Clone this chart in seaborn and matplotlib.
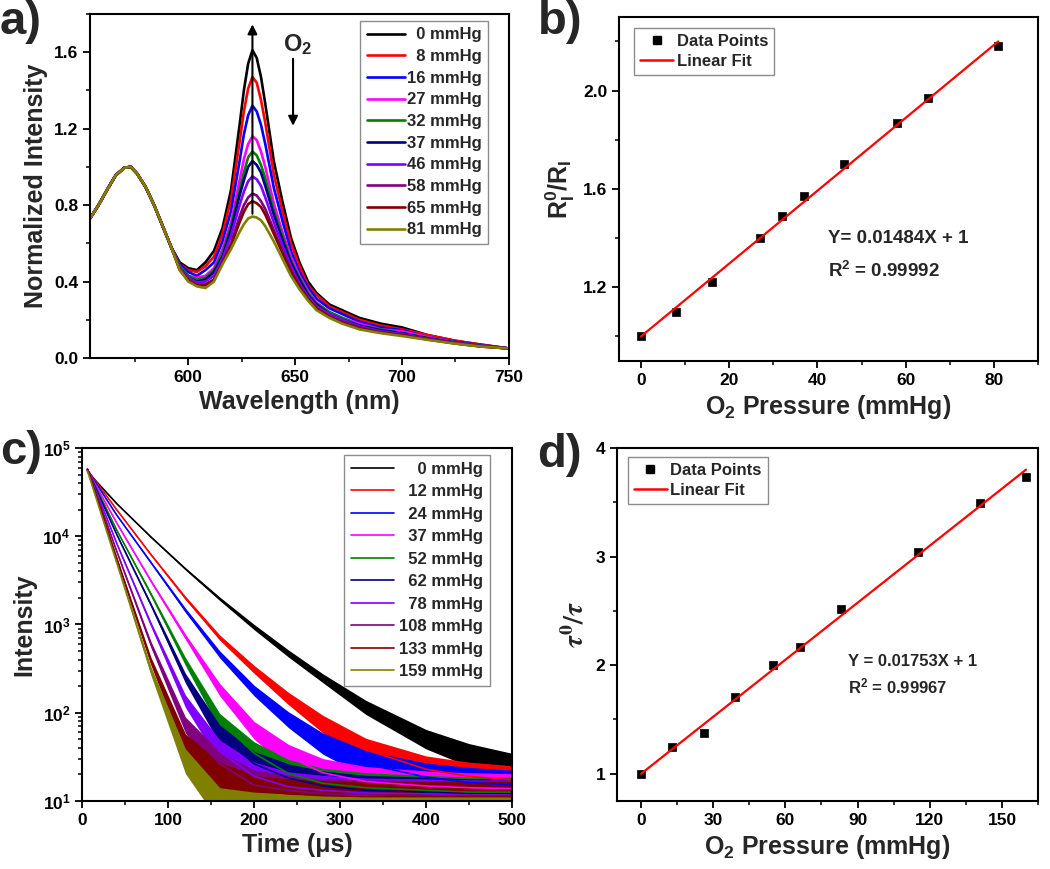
import numpy as np
import matplotlib
matplotlib.use("Agg")
import matplotlib.pyplot as plt
from matplotlib.lines import Line2D
from matplotlib.ticker import MultipleLocator, FormatStrFormatter
import seaborn as sns

# ---------------- panel a: normalized emission spectra ----------------
a_pressures = [0, 8, 16, 27, 32, 37, 46, 58, 65, 81]
wl_band1 = [554, 558, 562, 566, 570, 573, 576, 580, 584, 588, 592]
band1 = [0.73, 0.80, 0.88, 0.955, 0.995, 1.00, 0.965, 0.895, 0.80, 0.69, 0.58]
wl_band2 = [596, 600, 604, 608, 612, 616, 620, 624, 626, 628, 630, 632, 634, 636, 640, 644,
            648, 652, 656, 660, 666, 672, 680, 690, 700, 712, 725, 737, 750]
spec_0 = [0.50, 0.47, 0.46, 0.50, 0.56, 0.68, 0.88, 1.22, 1.40, 1.54, 1.61, 1.57, 1.47, 1.33, 1.03, 0.82,
          0.63, 0.50, 0.40, 0.34, 0.28, 0.25, 0.21, 0.18, 0.16, 0.12, 0.09, 0.07, 0.05]
spec_8 = [0.49, 0.46, 0.45, 0.48, 0.53, 0.65, 0.83, 1.13, 1.29, 1.41, 1.47, 1.44, 1.35, 1.23, 0.96, 0.77,
          0.60, 0.48, 0.38, 0.33, 0.27, 0.24, 0.20, 0.17, 0.15, 0.12, 0.09, 0.07, 0.05]
spec_16 = [0.49, 0.45, 0.43, 0.46, 0.50, 0.61, 0.77, 1.03, 1.17, 1.27, 1.32, 1.29, 1.22, 1.12, 0.89, 0.72,
           0.56, 0.45, 0.37, 0.31, 0.26, 0.23, 0.19, 0.16, 0.145, 0.11, 0.085, 0.067, 0.05]
spec_27 = [0.48, 0.43, 0.42, 0.43, 0.47, 0.57, 0.71, 0.93, 1.04, 1.12, 1.16, 1.14, 1.08, 1.00, 0.81, 0.66,
           0.53, 0.43, 0.35, 0.29, 0.24, 0.21, 0.18, 0.15, 0.14, 0.11, 0.082, 0.065, 0.05]
spec_32 = [0.48, 0.43, 0.41, 0.42, 0.46, 0.55, 0.69, 0.88, 0.97, 1.05, 1.08, 1.06, 1.01, 0.94, 0.77, 0.64,
           0.51, 0.42, 0.34, 0.285, 0.24, 0.21, 0.17, 0.15, 0.13, 0.105, 0.081, 0.064, 0.05]
spec_37 = [0.47, 0.42, 0.40, 0.41, 0.45, 0.53, 0.67, 0.85, 0.93, 1.00, 1.03, 1.01, 0.97, 0.90, 0.75, 0.62,
           0.50, 0.41, 0.33, 0.28, 0.23, 0.20, 0.17, 0.145, 0.13, 0.103, 0.08, 0.063, 0.05]
spec_46 = [0.47, 0.42, 0.395, 0.40, 0.43, 0.52, 0.64, 0.80, 0.87, 0.925, 0.95, 0.935, 0.90, 0.84, 0.71, 0.59,
           0.48, 0.39, 0.32, 0.27, 0.23, 0.20, 0.165, 0.14, 0.125, 0.10, 0.079, 0.062, 0.05]
spec_58 = [0.465, 0.41, 0.385, 0.385, 0.41, 0.50, 0.60, 0.74, 0.80, 0.84, 0.86, 0.85, 0.82, 0.78, 0.67, 0.56,
           0.46, 0.38, 0.31, 0.26, 0.22, 0.19, 0.16, 0.135, 0.12, 0.098, 0.077, 0.061, 0.05]
spec_65 = [0.46, 0.405, 0.38, 0.38, 0.41, 0.50, 0.59, 0.71, 0.765, 0.805, 0.82, 0.81, 0.79, 0.75, 0.65, 0.55,
           0.45, 0.37, 0.31, 0.26, 0.215, 0.185, 0.155, 0.133, 0.12, 0.097, 0.076, 0.06, 0.05]
spec_81 = [0.46, 0.40, 0.375, 0.366, 0.40, 0.49, 0.57, 0.66, 0.70, 0.73, 0.74, 0.735, 0.72, 0.69, 0.61, 0.52,
           0.43, 0.36, 0.30, 0.25, 0.21, 0.18, 0.15, 0.13, 0.115, 0.095, 0.075, 0.06, 0.05]
spectra = [spec_0, spec_8, spec_16, spec_27, spec_32, spec_37, spec_46, spec_58, spec_65, spec_81]

# ---------------- panel b: Stern-Volmer (intensity ratio) ----------------
b_pressure = [0, 8, 16, 27, 32, 37, 46, 58, 65, 81]
b_ratio = [1.00, 1.10, 1.22, 1.40, 1.49, 1.57, 1.70, 1.87, 1.97, 2.18]
b_fit_x = [0, 81]
b_fit_y = [1.00, 2.20]

# ---------------- panel c: decay curves (log10 counts) ----------------
c_pressures = [0, 12, 24, 37, 52, 62, 78, 108, 133, 159]
time_us = [6, 40, 80, 120, 160, 200, 240, 280, 330, 400, 450, 500]
decay_log = [
    [4.73, 4.37, 3.99, 3.63, 3.29, 2.97, 2.67, 2.39, 2.06, 1.70, 1.52, 1.40],
    [4.75, 4.30, 3.79, 3.30, 2.85, 2.49, 2.16, 1.87, 1.58, 1.36, 1.28, 1.24],
    [4.75, 4.24, 3.70, 3.16, 2.66, 2.25, 1.92, 1.65, 1.42, 1.27, 1.21, 1.18],
    [4.75, 4.15, 3.49, 2.86, 2.26, 1.80, 1.50, 1.32, 1.22, 1.17, 1.15, 1.14],
    [4.75, 4.07, 3.34, 2.58, 1.90, 1.54, 1.31, 1.20, 1.15, 1.12, 1.10, 1.10],
    [4.75, 4.02, 3.22, 2.39, 1.75, 1.42, 1.26, 1.17, 1.12, 1.10, 1.08, 1.08],
    [4.76, 3.92, 3.00, 2.13, 1.56, 1.28, 1.16, 1.12, 1.09, 1.08, 1.07, 1.07],
    [4.76, 3.83, 2.77, 1.86, 1.42, 1.18, 1.12, 1.08, 1.07, 1.06, 1.06, 1.06],
    [4.76, 3.75, 2.58, 1.64, 1.28, 1.12, 1.08, 1.06, 1.05, 1.05, 1.05, 1.05],
    [4.74, 3.70, 2.47, 1.45, 0.95, 0.90, 0.90, 0.90, 0.90, 0.90, 0.90, 0.90],
]
# half width of the noise band (decades)
noise_hw = [
    [0.005, 0.005, 0.008, 0.012, 0.02, 0.03, 0.04, 0.05, 0.08, 0.11, 0.13, 0.14],
    [0.005, 0.006, 0.01, 0.02, 0.03, 0.045, 0.07, 0.10, 0.13, 0.15, 0.16, 0.16],
    [0.005, 0.006, 0.012, 0.025, 0.04, 0.06, 0.09, 0.12, 0.15, 0.16, 0.17, 0.17],
    [0.005, 0.008, 0.015, 0.03, 0.07, 0.10, 0.14, 0.16, 0.17, 0.17, 0.17, 0.17],
    [0.005, 0.008, 0.02, 0.045, 0.09, 0.13, 0.16, 0.17, 0.17, 0.17, 0.17, 0.17],
    [0.005, 0.01, 0.02, 0.055, 0.11, 0.14, 0.16, 0.17, 0.17, 0.17, 0.17, 0.17],
    [0.005, 0.01, 0.025, 0.07, 0.13, 0.16, 0.17, 0.17, 0.17, 0.17, 0.17, 0.17],
    [0.005, 0.012, 0.035, 0.09, 0.14, 0.17, 0.17, 0.17, 0.17, 0.17, 0.17, 0.17],
    [0.005, 0.015, 0.045, 0.12, 0.16, 0.17, 0.17, 0.17, 0.17, 0.17, 0.17, 0.17],
    [0.005, 0.015, 0.05, 0.14, 0.20, 0.20, 0.18, 0.17, 0.17, 0.17, 0.17, 0.17],
]

# ---------------- panel d: Stern-Volmer (lifetime ratio) ----------------
d_pressure = [0, 13, 26, 39, 55, 66, 83, 115, 141, 160]
d_ratio = [1.00, 1.245, 1.38, 1.71, 2.00, 2.17, 2.52, 3.04, 3.49, 3.73]
d_fit_x = [0, 160]
d_fit_y = [1.00, 3.80]

colors = ["#000000", "#ff0000", "#0000ff", "#ff00ff", "#008000",
          "#000080", "#8000ff", "#800080", "#800000", "#808000"]


def mmhg_label(p, width):
    # pad with two spaces per missing digit so the labels line up on the right
    s = str(p)
    return "  " * (width - len(s)) + s + " mmHg"


sns.set_theme(style="ticks")
plt.rcParams.update({
    "font.family": ["Liberation Sans", "DejaVu Sans"],
    "font.weight": "bold",
    "axes.labelweight": "bold",
    "axes.linewidth": 1.5,
    "axes.edgecolor": "black",
    "xtick.color": "black",
    "ytick.color": "black",
    "xtick.direction": "out",
    "ytick.direction": "out",
    "xtick.major.size": 5,
    "ytick.major.size": 5,
    "xtick.minor.size": 3,
    "ytick.minor.size": 3,
    "xtick.major.width": 1.3,
    "ytick.major.width": 1.3,
    "xtick.minor.width": 1.1,
    "ytick.minor.width": 1.1,
    "mathtext.fontset": "custom",
    "mathtext.rm": "Liberation Sans:bold",
    "mathtext.it": "Liberation Sans:bold",
    "mathtext.bf": "Liberation Sans:bold",
})

TICK = 12.5
LAB = 18

fig = plt.figure(figsize=(10.5, 8.69), dpi=100)
ax_a = fig.add_axes([0.0857, 0.588, 0.399, 0.396])
ax_b = fig.add_axes([0.5895, 0.5846, 0.399, 0.396])
ax_c = fig.add_axes([0.0784, 0.0783, 0.4092, 0.4062])
ax_d = fig.add_axes([0.5876, 0.0783, 0.401, 0.4062])

legend_box = dict(fancybox=False, edgecolor="#8c8c8c", framealpha=1, borderaxespad=0)

# ----- a -----
wl = wl_band1 + wl_band2
for vals, col in zip(spectra, colors):
    sns.lineplot(x=wl, y=band1 + vals, color=col, linewidth=1.9, ax=ax_a)
ax_a.set_xlim(554, 750)
ax_a.set_ylim(0, 1.8)
ax_a.xaxis.set_major_locator(MultipleLocator(50))
ax_a.xaxis.set_minor_locator(MultipleLocator(25))
ax_a.yaxis.set_major_locator(MultipleLocator(0.4))
ax_a.yaxis.set_minor_locator(MultipleLocator(0.2))
ax_a.yaxis.set_major_formatter(FormatStrFormatter("%.1f"))
ax_a.set_xlabel("Wavelength (nm)", fontsize=LAB)
ax_a.set_ylabel("Normalized Intensity", fontsize=LAB)
ax_a.legend(handles=ax_a.lines[:10], labels=[mmhg_label(p, 2) for p in a_pressures],
            loc="upper right", bbox_to_anchor=(0.95, 0.98), fontsize=12,
            handlelength=2.3, handletextpad=0.1, labelspacing=0.4, borderpad=0.4,
            **legend_box)
ax_a.annotate("", xy=(630, 1.76), xytext=(630, 0.74),
              arrowprops=dict(arrowstyle="-|>", color="black", lw=1.5, mutation_scale=14))
ax_a.annotate("", xy=(649, 1.20), xytext=(649, 1.58),
              arrowprops=dict(arrowstyle="-|>", color="black", lw=1.5, mutation_scale=14))
ax_a.text(644.5, 1.64, "O$_2$", fontsize=17, fontweight="bold", va="center", ha="left")

# ----- b -----
fit_handles = [Line2D([], [], ls="none", marker="s", color="black", markersize=6),
               Line2D([], [], color="red", lw=1.8)]
fit_legend = dict(fontsize=12, handlelength=2.0, handletextpad=0.2, labelspacing=0.3,
                  borderpad=0.35, loc="upper left", **legend_box)

sns.scatterplot(x=b_pressure, y=b_ratio, marker="s", s=36, color="black",
                edgecolor="black", linewidth=0.5, ax=ax_b, zorder=3)
sns.lineplot(x=b_fit_x, y=b_fit_y, color="red", linewidth=1.6, ax=ax_b, zorder=4)
ax_b.set_xlim(-5, 90)
ax_b.set_ylim(0.9, 2.3)
ax_b.xaxis.set_major_locator(MultipleLocator(20))
ax_b.xaxis.set_minor_locator(MultipleLocator(10))
ax_b.yaxis.set_major_locator(MultipleLocator(0.4))
ax_b.yaxis.set_minor_locator(MultipleLocator(0.2))
ax_b.yaxis.set_major_formatter(FormatStrFormatter("%.1f"))
ax_b.set_xlabel("O$_2$ Pressure (mmHg)", fontsize=LAB)
ax_b.set_ylabel("R$_\\mathregular{I}^\\mathregular{0}$/R$_\\mathregular{I}$", fontsize=LAB)
ax_b.text(42.5, 1.40, "Y= 0.01484X + 1", fontsize=13.5, fontweight="bold", va="center")
ax_b.text(42.5, 1.265, "R$^2$ = 0.99992", fontsize=13.5, fontweight="bold", va="center")
ax_b.legend(handles=fit_handles, labels=["Data Points", "Linear Fit"],
            bbox_to_anchor=(0.036, 0.968), **fit_legend)

# ----- c -----
for logs, hw, col in zip(decay_log, noise_hw, colors):
    logs = np.array(logs)
    hw = np.array(hw)
    ax_c.fill_between(time_us, 10 ** (logs - hw), 10 ** (logs + hw), color=col, lw=0)
    sns.lineplot(x=time_us, y=10 ** logs, color=col, linewidth=1.2, ax=ax_c)
ax_c.set_yscale("log")
ax_c.set_xlim(0, 500)
ax_c.set_ylim(10, 1e5)
ax_c.xaxis.set_major_locator(MultipleLocator(100))
ax_c.xaxis.set_minor_locator(MultipleLocator(50))
ax_c.set_xlabel("Time (\u03bcs)", fontsize=LAB)
ax_c.set_ylabel("Intensity", fontsize=LAB)
ax_c.legend(handles=ax_c.lines[:10], labels=[mmhg_label(p, 3) for p in c_pressures],
            loc="upper right", bbox_to_anchor=(0.949, 0.98), fontsize=12,
            handlelength=2.6, handletextpad=0.3, labelspacing=0.45, borderpad=0.4,
            **legend_box)

# ----- d -----
sns.scatterplot(x=d_pressure, y=d_ratio, marker="s", s=36, color="black",
                edgecolor="black", linewidth=0.5, ax=ax_d, zorder=3)
sns.lineplot(x=d_fit_x, y=d_fit_y, color="red", linewidth=1.6, ax=ax_d, zorder=4)
ax_d.set_xlim(-10, 165)
ax_d.set_ylim(0.75, 4.0)
ax_d.xaxis.set_major_locator(MultipleLocator(30))
ax_d.xaxis.set_minor_locator(MultipleLocator(15))
ax_d.yaxis.set_major_locator(MultipleLocator(1))
ax_d.yaxis.set_minor_locator(MultipleLocator(0.5))
ax_d.set_xlabel("O$_2$ Pressure (mmHg)", fontsize=LAB)
ax_d.set_ylabel(r"$\tau^0/\tau$", fontsize=LAB + 2, math_fontfamily="stix")
ax_d.text(86, 2.03, "Y = 0.01753X + 1", fontsize=12, fontweight="bold", va="center")
ax_d.text(86, 1.80, "R$^2$ = 0.99967", fontsize=12, fontweight="bold", va="center")
ax_d.legend(handles=fit_handles, labels=["Data Points", "Linear Fit"],
            bbox_to_anchor=(0.026, 0.974), **fit_legend)

for ax in (ax_a, ax_b, ax_c, ax_d):
    ax.tick_params(axis="both", which="both", labelsize=TICK, top=False, right=False)
    for lab in ax.get_xticklabels() + ax.get_yticklabels():
        lab.set_fontweight("bold")
    for sp in ax.spines.values():
        sp.set_visible(True)
        sp.set_color("black")
        sp.set_linewidth(1.5)

for txt, x, y in [("a)", 0.0, 1.0), ("b)", 0.512, 1.0), ("c)", 0.0, 0.505), ("d)", 0.512, 0.502)]:
    fig.text(x, y, txt, fontsize=34, fontweight="bold", va="top", ha="left")

fig.savefig("out.png", dpi=100, facecolor="white")
